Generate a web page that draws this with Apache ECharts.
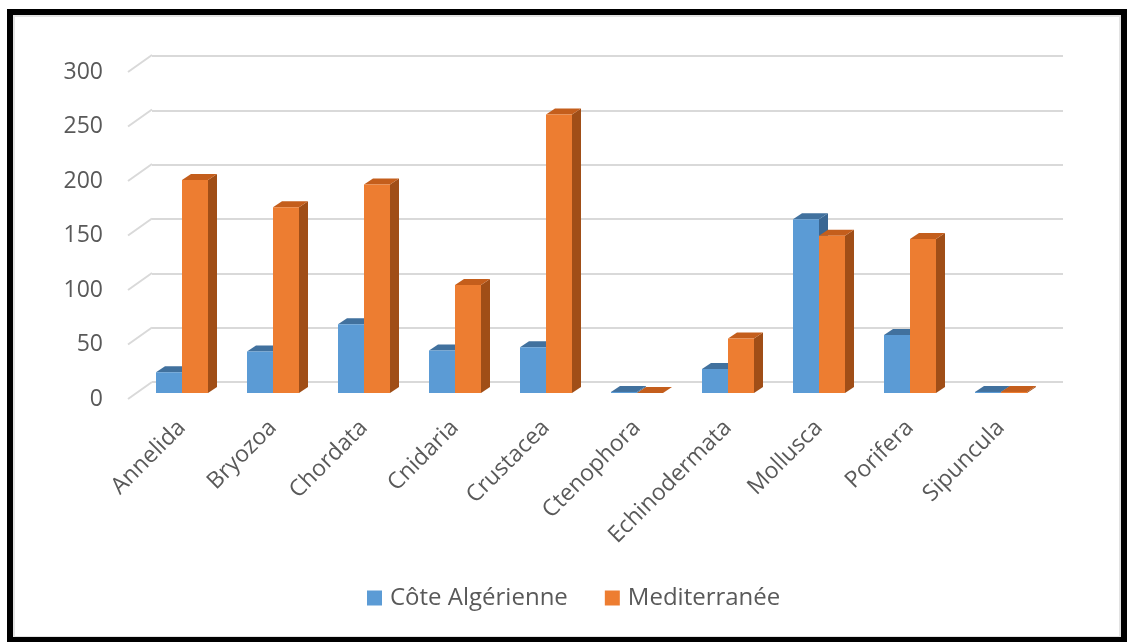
<!DOCTYPE html>
<html>
<head>
<meta charset="utf-8">
<script src="https://cdn.jsdelivr.net/npm/echarts@6/dist/echarts.min.js"></script>
<style>
html,body{margin:0;padding:0;background:#fff;}
#chart{width:1127px;height:642px;}
</style>
</head>
<body>
<div id="chart"></div>
<script>
const categories = ['Annelida','Bryozoa','Chordata','Cnidaria','Crustacea','Ctenophora','Echinodermata','Mollusca','Porifera','Sipuncula'];
const coteValues = [19, 38, 63, 39, 42, 1, 22, 159, 53, 1];
const mediValues = [195, 170, 191, 99, 255, 0, 50, 144, 141, 1];
const seriesNames = ['Côte Algérienne', 'Mediterranée'];
const yMin = 0, yMax = 300, yStep = 50;
const yTicks = [0, 50, 100, 150, 200, 250, 300];

const FONT = "'Open Sans', 'Liberation Sans', sans-serif";
const TXT = '#595959';

const palette = [
  {front:'#5B9BD5', top:'#41719E', side:'#3A6793'},
  {front:'#ED7D31', top:'#C45E1C', side:'#A04E17'}
];

function makeRender(sideIdx){
  const c = palette[sideIdx];
  return function(params, api){
    const idx = api.value(0), v = api.value(1);
    const top = api.coord([idx, v]);
    const base = api.coord([idx, 0]);
    const band = api.size([1, 0])[0];
    const w = band * 26 / 91;
    const x0 = sideIdx === 0 ? top[0] - w : top[0];
    const x1 = x0 + w;
    const yT = top[1], yB = base[1];
    const dx = 9, dy = 6;
    return {type:'group', children:[
      {type:'polygon', shape:{points:[[x1,yB],[x1+dx,yB-dy],[x1+dx,yT-dy],[x1,yT]]}, style:{fill:c.side}},
      {type:'polygon', shape:{points:[[x0,yT],[x1,yT],[x1+dx,yT-dy],[x0+dx,yT-dy]]}, style:{fill:c.top}},
      {type:'rect', shape:{x:x0,y:yT,width:w,height:Math.max(yB-yT,0)}, style:{fill:c.front}}
    ]};
  };
}

const chart = echarts.init(document.getElementById('chart'));
chart.setOption({
  backgroundColor:'#fff',
  animation:false,
  textStyle:{fontFamily:FONT},
  grid:[
    {left:128, right:47, top:72, bottom:243},      // front plane (labels)
    {left:136.5, right:80.5, top:65.4, bottom:249}, // bar plane
    {left:152, right:64, top:56, bottom:260}        // back wall
  ],
  xAxis:[
    {gridIndex:0, type:'value', min:0, max:1, show:false},
    {gridIndex:1, type:'category', data:categories,
      axisLine:{show:false}, axisTick:{show:false},
      axisLabel:{rotate:45, margin:31, fontSize:23, color:TXT, fontFamily:FONT, interval:0}},
    {gridIndex:2, type:'value', min:0, max:1, show:false}
  ],
  yAxis:[
    {gridIndex:0, type:'value', min:yMin, max:yMax, interval:yStep,
      axisLine:{show:false}, axisTick:{show:false}, splitLine:{show:false},
      axisLabel:{margin:25, fontSize:23, color:TXT, fontFamily:FONT}},
    {gridIndex:1, type:'value', min:yMin, max:yMax, interval:yStep, show:false, splitLine:{show:false}},
    {gridIndex:2, type:'value', min:yMin, max:yMax, interval:yStep,
      axisLine:{show:false}, axisTick:{show:false}, axisLabel:{show:false},
      splitLine:{show:true, lineStyle:{color:'#d9d9d9', width:2}}}
  ],
  legend:{
    data:seriesNames, left:367, top:586, padding:0,
    itemWidth:15, itemHeight:15, itemGap:37, icon:'rect',
    textStyle:{fontSize:24, color:TXT, fontFamily:FONT, padding:[0,0,0,3]}
  },
  series:[
    {type:'custom', name:'diag', xAxisIndex:0, yAxisIndex:0, silent:true, z:1,
      data:yTicks.map(t => [0, t]),
      renderItem:function(params, api){
        const p = api.coord([0, api.value(1)]);
        return {type:'line', shape:{x1:p[0], y1:p[1], x2:p[0]+24, y2:p[1]-17},
          style:{stroke:'#d9d9d9', lineWidth:2}};
      }},
    {type:'custom', name:seriesNames[0], xAxisIndex:1, yAxisIndex:1, z:3,
      itemStyle:{color:palette[0].front},
      data:coteValues.map((v,i)=>[i,v]), renderItem:makeRender(0)},
    {type:'custom', name:seriesNames[1], xAxisIndex:1, yAxisIndex:1, z:4,
      itemStyle:{color:palette[1].front},
      data:mediValues.map((v,i)=>[i,v]), renderItem:makeRender(1)}
  ],
  graphic:[
    {type:'rect', shape:{x:14, y:16, width:1106, height:621}, style:{fill:'none', stroke:'#e3e3e3', lineWidth:2}, z:100},
    {type:'rect', shape:{x:10, y:12, width:1114, height:628}, style:{fill:'none', stroke:'#000', lineWidth:6}, z:101}
  ]
});
</script>
</body>
</html>
